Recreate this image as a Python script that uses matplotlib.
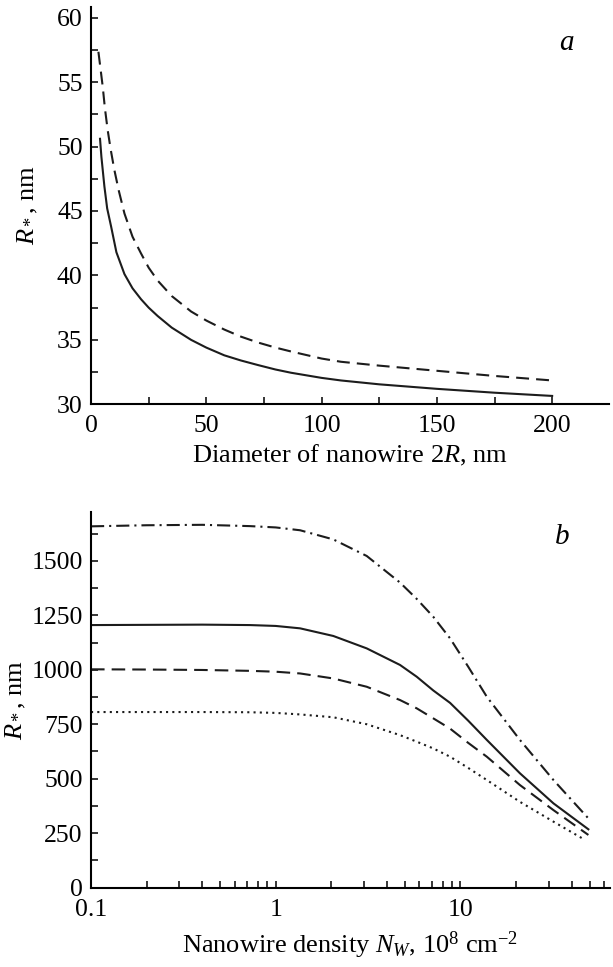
import matplotlib
matplotlib.use("Agg")
import matplotlib.pyplot as plt
from matplotlib.ticker import MultipleLocator, LogLocator, FixedFormatter, FixedLocator, NullFormatter

plt.rcParams['font.family'] = ['Liberation Serif', 'DejaVu Serif']
plt.rcParams['mathtext.fontset'] = 'custom'
plt.rcParams['mathtext.rm'] = 'Liberation Serif'
plt.rcParams['mathtext.it'] = 'Liberation Serif:italic'

# (a) R* vs nanowire diameter 2R
d_solid = [3.9, 4.5, 5.8, 7.0, 8.7, 11, 14.5, 18, 21.7, 25, 28.9, 35, 43.4, 50, 57.8, 65, 72.3,
           80, 86.7, 100, 108.4, 125, 150, 175, 200]
r_solid = [50.6, 49.2, 46.9, 45.2, 43.8, 41.8, 40.1, 39.0, 38.15, 37.5, 36.85, 35.95, 35.0, 34.4,
           33.8, 33.4, 33.05, 32.7, 32.45, 32.05, 31.85, 31.55, 31.2, 30.9, 30.65]
d_dash = [3.2, 4.0, 5.1, 6.0, 7.2, 8.5, 10.1, 12, 14.5, 18, 21.7, 25, 28.9, 35, 43.4, 50, 57.8,
          65, 72.3, 80, 86.7, 100, 108.4, 125, 150, 175, 200]
r_dash = [57.35, 56.2, 54.6, 53.0, 51.3, 49.8, 48.2, 46.6, 44.8, 43.0, 41.7, 40.6, 39.6, 38.4,
          37.2, 36.5, 35.8, 35.25, 34.8, 34.4, 34.1, 33.55, 33.3, 33.0, 32.6, 32.2, 31.85]

# (b) R* vs nanowire density N_W
nw = [0.1, 0.2, 0.4, 0.726, 1.0, 1.355, 2.05, 3.11, 4.71, 5.8, 7.13, 8.79, 11, 13.9, 21.0, 31.9, 49.3]
r_dashdot = [1658, 1663, 1665, 1659, 1653, 1640, 1598, 1522, 1400, 1325, 1243, 1144, 1015, 876,
             678, 494, 318]
r_solid_b = [1205, 1206, 1207, 1205, 1201, 1190, 1155, 1098, 1022, 968, 905, 848, 767, 678,
             525, 387, 268]
r_dashed_b = [1002, 1001, 999, 995, 991, 983, 960, 922, 861, 823, 777, 730, 665, 601, 471, 356, 242]
nw_dot = [0.1, 0.2, 0.4, 0.726, 1.0, 1.355, 2.05, 3.11, 4.71, 5.8, 7.13, 8.79, 11, 13.9, 21.0, 31.9, 47.3]
r_dotted_b = [806, 806, 806, 805, 802, 795, 782, 750, 700, 670, 639, 601, 550, 494, 394, 303, 219]

fig = plt.figure(figsize=(6.13, 9.67), dpi=100)
ax1 = fig.add_axes([0.1485, 0.5819, 0.8455, 0.4112])
ax2 = fig.add_axes([0.1485, 0.0820, 0.8465, 0.3888])

lw = 1.5
col = '#1c1c1c'
for ax in (ax1, ax2):
    for s in ('top', 'right'):
        ax.spines[s].set_visible(False)
    for s in ('left', 'bottom'):
        ax.spines[s].set_linewidth(1.5)
    ax.tick_params(which='both', direction='in', length=5, width=1.1, labelsize=18.5, pad=6)
    ax.tick_params(axis='x', which='both', pad=8)

# panel a
ax1.plot(d_solid, r_solid, color=col, lw=lw)
ax1.plot(d_dash, r_dash, color=col, lw=lw, linestyle=(0, (6.2, 3.4)))
ax1.set_xlim(0, 224.8)
ax1.set_ylim(30, 60.85)
ax1.xaxis.set_major_locator(MultipleLocator(50))
ax1.xaxis.set_minor_locator(MultipleLocator(25))
ax1.yaxis.set_major_locator(MultipleLocator(5))
ax1.yaxis.set_minor_locator(MultipleLocator(2.5))
ax1.set_xlabel(r'Diameter of nanowire 2$R$, nm', fontsize=19, labelpad=4)
ax1.set_ylabel(r'$R_*$, nm', fontsize=19, labelpad=12)
ax1.text(0.9165, 0.909, 'a', transform=ax1.transAxes, fontsize=21, style='italic',
         ha='center', va='center')

# panel b
ax2.plot(nw, r_dashdot, color=col, lw=lw, linestyle=(0, (6.3, 2.4, 1.0, 2.4)))
ax2.plot(nw, r_solid_b, color=col, lw=lw)
ax2.plot(nw, r_dashed_b, color=col, lw=lw, linestyle=(0, (6.5, 3.4)))
ax2.plot(nw_dot, r_dotted_b, color=col, lw=lw, linestyle=(0, (1.0, 2.0)))
ax2.set_xscale('log')
ax2.set_xlim(0.1, 64.5)
ax2.set_ylim(0, 1725)
ax2.xaxis.set_major_locator(FixedLocator([0.1, 1, 10]))
ax2.xaxis.set_major_formatter(FixedFormatter(['0.1', '1', '10']))
ax2.xaxis.set_minor_locator(LogLocator(base=10, subs=range(2, 10)))
ax2.xaxis.set_minor_formatter(NullFormatter())
ax2.yaxis.set_major_locator(MultipleLocator(250))
ax2.yaxis.set_minor_locator(MultipleLocator(125))
ax2.set_xlabel(r'Nanowire density $N_W$, 10$^8$ cm$^{-2}$', fontsize=19, labelpad=6)
ax2.set_ylabel(r'$R_*$, nm', fontsize=19, labelpad=2)
ax2.text(0.9075, 0.933, 'b', transform=ax2.transAxes, fontsize=21, style='italic',
         ha='center', va='center')

fig.savefig('out.png', dpi=100)
